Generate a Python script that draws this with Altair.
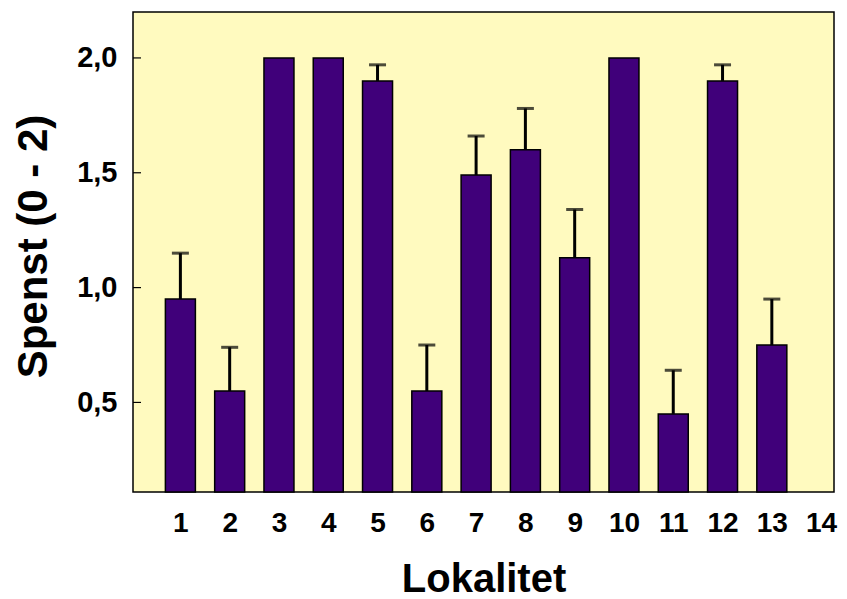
import altair as alt
import pandas as pd

categories = [1, 2, 3, 4, 5, 6, 7, 8, 9, 10, 11, 12, 13]
means = [0.95, 0.55, 2.0, 2.0, 1.9, 0.55, 1.49, 1.6, 1.13, 2.0, 0.45, 1.9, 0.75]
uppers = [1.15, 0.74, None, None, 1.97, 0.75, 1.66, 1.78, 1.34, None, 0.64, 1.97, 0.95]
x_ticks = list(range(1, 15))
y_ticks = [0.5, 1.0, 1.5, 2.0]

df = pd.DataFrame({"lok": categories, "mean": means, "upper": uppers})
err = df.dropna(subset=["upper"])
ticks_df = pd.DataFrame({"v": y_ticks})

FONT = "Liberation Sans"
xscale = alt.Scale(domain=[0.14, 14.16], nice=False, zero=False)
yscale = alt.Scale(domain=[0.11, 2.2], nice=False, zero=False)

x_axis = alt.Axis(values=x_ticks, format="d", title="Lokalitet", grid=False, domain=False,
                  ticks=False, labelFont=FONT, labelFontSize=28, labelFontWeight="bold",
                  labelColor="#000", labelPadding=17, titleFont=FONT, titleFontSize=40,
                  titleFontWeight="bold", titleColor="#000", titlePadding=22, labelFlush=False)
y_axis = alt.Axis(values=y_ticks, labelExpr="replace(format(datum.value, '.1f'), '.', ',')",
                  title="Spenst (0 - 2)", grid=False, domain=False, ticks=False,
                  labelFont=FONT, labelFontSize=29, labelFontWeight="bold", labelColor="#000",
                  labelPadding=16, titleFont=FONT, titleFontSize=42, titleFontWeight="bold",
                  titleColor="#000", titleX=-100, titleY=234, titleAngle=270,
                  titleBaseline="middle", titleAlign="center")

bars = alt.Chart(df).mark_bar(size=30, color="#40007A", stroke="#000", strokeWidth=1.5).encode(
    x=alt.X("lok:Q", scale=xscale, axis=x_axis),
    y=alt.Y("mean:Q", scale=yscale, axis=y_axis),
    y2=alt.datum(0.11),
)

stems = alt.Chart(err).mark_rule(color="#000", strokeWidth=3).encode(
    x=alt.X("lok:Q", scale=xscale),
    y=alt.Y("mean:Q", scale=yscale),
    y2="upper:Q",
)

caps = alt.Chart(err).mark_tick(color="#000", orient="horizontal", size=17, thickness=3).encode(
    x=alt.X("lok:Q", scale=xscale),
    y=alt.Y("upper:Q", scale=yscale),
)

inner_ticks = alt.Chart(ticks_df).mark_rule(color="#000", strokeWidth=1.2).encode(
    y=alt.Y("v:Q", scale=yscale),
    x=alt.value(0),
    x2=alt.value(8),
)

chart = (
    alt.layer(bars, stems, caps, inner_ticks)
    .properties(width=701, height=480, background="white",
                padding={"left": 125, "top": 4, "right": 5, "bottom": 110},
                autosize=alt.AutoSizeParams(type="none"))
    .configure_view(fill="#FFFABF", stroke="#000", strokeWidth=1.5)
)

chart.save("out.html", embed_options={"renderer": "svg", "actions": False})
